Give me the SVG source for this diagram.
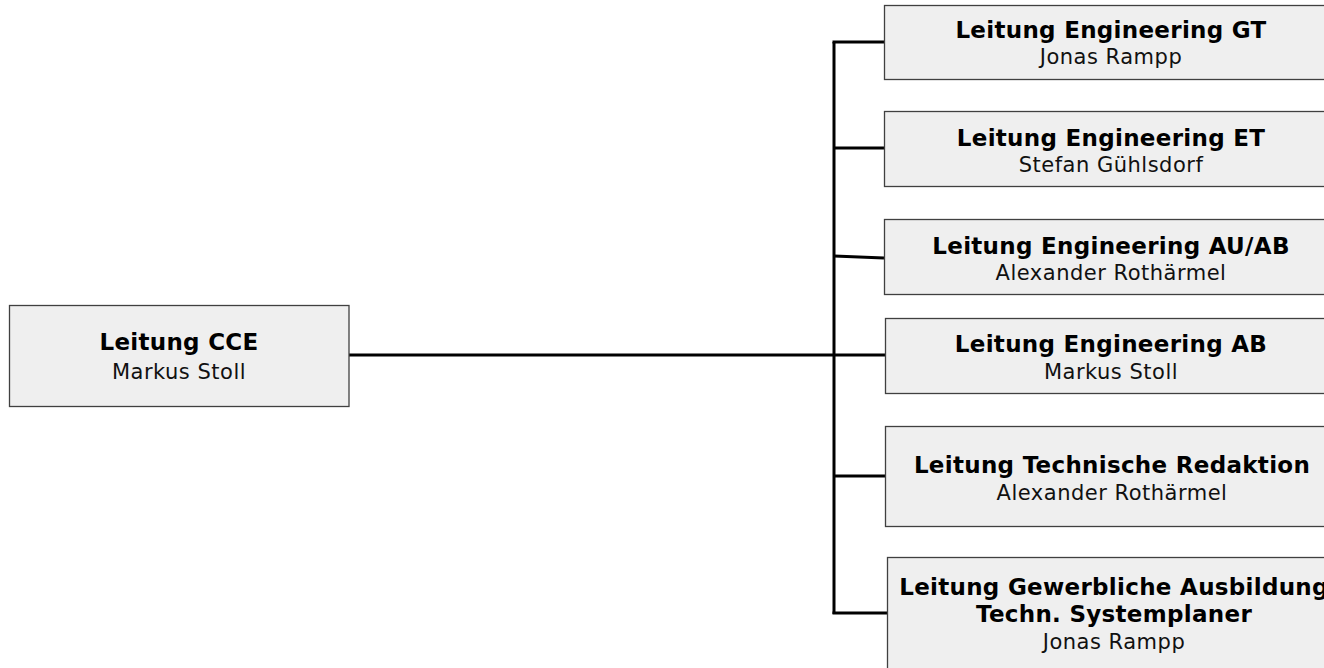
<svg xmlns="http://www.w3.org/2000/svg" width="1324" height="668" viewBox="0 0 1324 668">
<style>
.box{fill:#efefef;stroke:#404040;stroke-width:1.3}
.t{font-family:"DejaVu Sans",Verdana,sans-serif;font-weight:bold;font-size:23px;letter-spacing:0.3px;fill:#000;text-anchor:middle}
.n{font-family:"DejaVu Sans",Verdana,sans-serif;font-size:21px;letter-spacing:0.5px;fill:#111;text-anchor:middle}
.c{fill:none;stroke:#000;stroke-width:3}
</style>
<rect width="1324" height="668" fill="#fff"/>
<g id="connectors">
<line class="c" x1="349" y1="355" x2="834" y2="355"/>
<line class="c" x1="834" y1="42" x2="834" y2="614"/>
<line class="c" x1="832.5" y1="42" x2="884" y2="42"/>
<line class="c" x1="834" y1="148" x2="884" y2="148"/>
<line class="c" x1="834" y1="256" x2="884" y2="258"/>
<line class="c" x1="834" y1="355" x2="885" y2="355"/>
<line class="c" x1="834" y1="476" x2="885" y2="476"/>
<line class="c" x1="832.5" y1="613" x2="887" y2="613"/>
</g>
<g id="n0">
<rect class="box" x="9.5" y="305.5" width="339.5" height="101"/>
<text class="t" x="179" y="350">Leitung CCE</text>
<text class="n" x="179" y="378.5">Markus Stoll</text>
</g>
<g id="n1">
<rect class="box" x="884.5" y="5.5" width="454" height="74"/>
<text class="t" x="1111" y="38">Leitung Engineering GT</text>
<text class="n" x="1111" y="64">Jonas Rampp</text>
</g>
<g id="n2">
<rect class="box" x="884.5" y="111.5" width="454" height="75"/>
<text class="t" x="1111" y="146">Leitung Engineering ET</text>
<text class="n" x="1111" y="172">Stefan Gühlsdorf</text>
</g>
<g id="n3">
<rect class="box" x="884.5" y="219.5" width="454" height="75"/>
<text class="t" x="1111" y="254">Leitung Engineering AU/AB</text>
<text class="n" x="1111" y="280">Alexander Rothärmel</text>
</g>
<g id="n4">
<rect class="box" x="885.5" y="318.5" width="454" height="75"/>
<text class="t" x="1111" y="352">Leitung Engineering AB</text>
<text class="n" x="1111" y="378.5">Markus Stoll</text>
</g>
<g id="n5">
<rect class="box" x="885.5" y="426.5" width="454" height="100"/>
<text class="t" x="1112" y="473">Leitung Technische Redaktion</text>
<text class="n" x="1112" y="499.5">Alexander Rothärmel</text>
</g>
<g id="n6">
<rect class="box" x="887.5" y="557.5" width="454" height="130"/>
<text class="t" x="1114" y="594.5">Leitung Gewerbliche Ausbildung</text>
<text class="t" x="1114" y="622">Techn. Systemplaner</text>
<text class="n" x="1114" y="648.5">Jonas Rampp</text>
</g>
</svg>
